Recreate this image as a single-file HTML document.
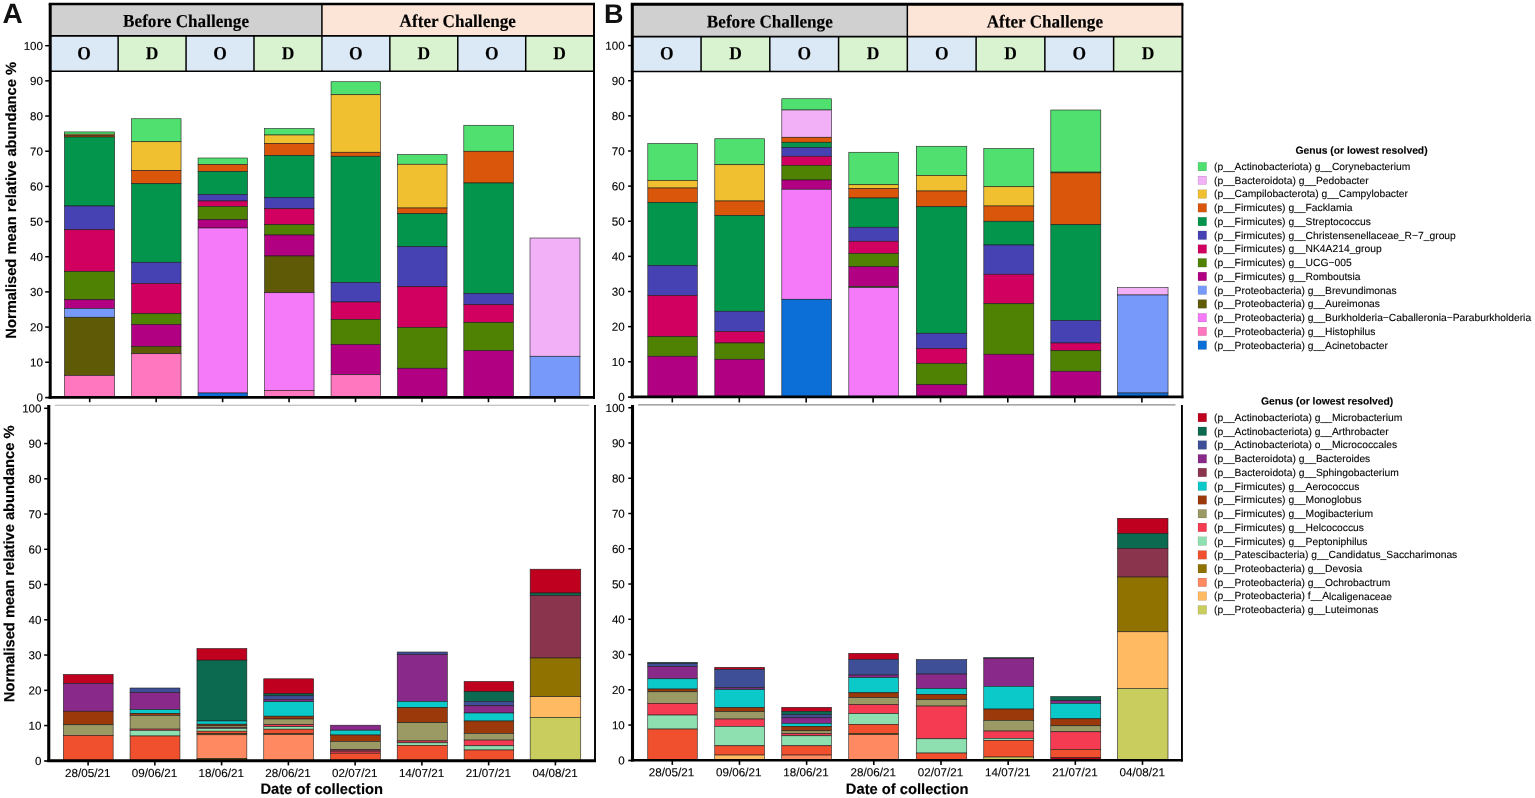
<!DOCTYPE html>
<html lang="en"><head><meta charset="utf-8"><title>Normalised mean relative abundance</title>
<style>html,body{margin:0;padding:0;background:#fff}body{width:1535px;height:798px;overflow:hidden}svg{display:block}</style>
</head><body>
<svg width="1535" height="798" viewBox="0 0 1535 798" text-rendering="geometricPrecision">
<rect width="1535" height="798" fill="#fff"/>
<rect x="50.2" y="4.05" width="271.72" height="31.849999999999998" fill="#d0d0d0"/>
<rect x="321.92" y="4.05" width="271.7200000000001" height="31.849999999999998" fill="#fce4d6"/>
<rect x="50.2" y="35.9" width="67.93" height="35.300000000000004" fill="#dbe9f6"/>
<rect x="118.13000000000001" y="35.9" width="67.92999999999999" height="35.300000000000004" fill="#d9f2d0"/>
<rect x="186.06" y="35.9" width="67.93" height="35.300000000000004" fill="#dbe9f6"/>
<rect x="253.99" y="35.9" width="67.93" height="35.300000000000004" fill="#d9f2d0"/>
<rect x="321.92" y="35.9" width="67.93" height="35.300000000000004" fill="#dbe9f6"/>
<rect x="389.85" y="35.9" width="67.93" height="35.300000000000004" fill="#d9f2d0"/>
<rect x="457.78000000000003" y="35.9" width="67.93" height="35.300000000000004" fill="#dbe9f6"/>
<rect x="525.71" y="35.9" width="67.93000000000006" height="35.300000000000004" fill="#d9f2d0"/>
<g stroke="#1c1c1c" stroke-width="0.58">
<rect x="64.45" y="131.90" width="50.20" height="2.30" fill="#4fe070"/>
<rect x="64.45" y="134.20" width="50.20" height="1.20" fill="#f0c030"/>
<rect x="64.45" y="135.40" width="50.20" height="1.60" fill="#d9560a"/>
<rect x="64.45" y="137.00" width="50.20" height="69.00" fill="#03954c"/>
<rect x="64.45" y="206.00" width="50.20" height="23.75" fill="#4742b4"/>
<rect x="64.45" y="229.75" width="50.20" height="41.75" fill="#d10060"/>
<rect x="64.45" y="271.50" width="50.20" height="28.25" fill="#4f8203"/>
<rect x="64.45" y="299.75" width="50.20" height="8.75" fill="#b20082"/>
<rect x="64.45" y="308.50" width="50.20" height="8.75" fill="#779afa"/>
<rect x="64.45" y="317.25" width="50.20" height="58.25" fill="#5e5a06"/>
<rect x="64.45" y="375.50" width="50.20" height="21.90" fill="#ff78bf"/>
<rect x="131.55" y="118.75" width="49.50" height="23.00" fill="#4fe070"/>
<rect x="131.55" y="141.75" width="49.50" height="28.75" fill="#f0c030"/>
<rect x="131.55" y="170.50" width="49.50" height="13.25" fill="#d9560a"/>
<rect x="131.55" y="183.75" width="49.50" height="78.50" fill="#03954c"/>
<rect x="131.55" y="262.25" width="49.50" height="21.25" fill="#4742b4"/>
<rect x="131.55" y="283.50" width="49.50" height="30.25" fill="#d10060"/>
<rect x="131.55" y="313.75" width="49.50" height="10.75" fill="#4f8203"/>
<rect x="131.55" y="324.50" width="49.50" height="22.00" fill="#b20082"/>
<rect x="131.55" y="346.50" width="49.50" height="7.25" fill="#5e5a06"/>
<rect x="131.55" y="353.75" width="49.50" height="43.65" fill="#ff78bf"/>
<rect x="198.05" y="158.00" width="49.50" height="6.50" fill="#4fe070"/>
<rect x="198.05" y="164.50" width="49.50" height="7.00" fill="#d9560a"/>
<rect x="198.05" y="171.50" width="49.50" height="23.00" fill="#03954c"/>
<rect x="198.05" y="194.50" width="49.50" height="6.50" fill="#4742b4"/>
<rect x="198.05" y="201.00" width="49.50" height="5.50" fill="#d10060"/>
<rect x="198.05" y="206.50" width="49.50" height="13.25" fill="#4f8203"/>
<rect x="198.05" y="219.75" width="49.50" height="8.25" fill="#b20082"/>
<rect x="198.05" y="228.00" width="49.50" height="165.00" fill="#f47af9"/>
<rect x="198.05" y="393.00" width="49.50" height="4.40" fill="#0c6fd8"/>
<rect x="264.55" y="128.50" width="49.50" height="6.50" fill="#4fe070"/>
<rect x="264.55" y="135.00" width="49.50" height="8.50" fill="#f0c030"/>
<rect x="264.55" y="143.50" width="49.50" height="12.00" fill="#d9560a"/>
<rect x="264.55" y="155.50" width="49.50" height="42.00" fill="#03954c"/>
<rect x="264.55" y="197.50" width="49.50" height="11.25" fill="#4742b4"/>
<rect x="264.55" y="208.75" width="49.50" height="16.00" fill="#d10060"/>
<rect x="264.55" y="224.75" width="49.50" height="10.25" fill="#4f8203"/>
<rect x="264.55" y="235.00" width="49.50" height="21.00" fill="#b20082"/>
<rect x="264.55" y="256.00" width="49.50" height="36.75" fill="#5e5a06"/>
<rect x="264.55" y="292.75" width="49.50" height="97.75" fill="#f47af9"/>
<rect x="264.55" y="390.50" width="49.50" height="6.90" fill="#ff78bf"/>
<rect x="331.05" y="81.75" width="49.50" height="13.00" fill="#4fe070"/>
<rect x="331.05" y="94.75" width="49.50" height="57.50" fill="#f0c030"/>
<rect x="331.05" y="152.25" width="49.50" height="4.00" fill="#d9560a"/>
<rect x="331.05" y="156.25" width="49.50" height="126.25" fill="#03954c"/>
<rect x="331.05" y="282.50" width="49.50" height="19.50" fill="#4742b4"/>
<rect x="331.05" y="302.00" width="49.50" height="17.50" fill="#d10060"/>
<rect x="331.05" y="319.50" width="49.50" height="25.00" fill="#4f8203"/>
<rect x="331.05" y="344.50" width="49.50" height="30.25" fill="#b20082"/>
<rect x="331.05" y="374.75" width="49.50" height="22.65" fill="#ff78bf"/>
<rect x="397.55" y="154.50" width="49.50" height="9.75" fill="#4fe070"/>
<rect x="397.55" y="164.25" width="49.50" height="43.75" fill="#f0c030"/>
<rect x="397.55" y="208.00" width="49.50" height="5.75" fill="#d9560a"/>
<rect x="397.55" y="213.75" width="49.50" height="33.00" fill="#03954c"/>
<rect x="397.55" y="246.75" width="49.50" height="40.00" fill="#4742b4"/>
<rect x="397.55" y="286.75" width="49.50" height="40.75" fill="#d10060"/>
<rect x="397.55" y="327.50" width="49.50" height="40.75" fill="#4f8203"/>
<rect x="397.55" y="368.25" width="49.50" height="29.15" fill="#b20082"/>
<rect x="463.80" y="125.25" width="49.75" height="26.00" fill="#4fe070"/>
<rect x="463.80" y="151.25" width="49.75" height="31.75" fill="#d9560a"/>
<rect x="463.80" y="183.00" width="49.75" height="110.50" fill="#03954c"/>
<rect x="463.80" y="293.50" width="49.75" height="11.25" fill="#4742b4"/>
<rect x="463.80" y="304.75" width="49.75" height="17.75" fill="#d10060"/>
<rect x="463.80" y="322.50" width="49.75" height="28.25" fill="#4f8203"/>
<rect x="463.80" y="350.75" width="49.75" height="46.65" fill="#b20082"/>
<rect x="530.00" y="238.00" width="50.00" height="118.25" fill="#f2b0f7"/>
<rect x="530.00" y="356.25" width="50.00" height="41.15" fill="#779afa"/>
<rect x="63.35" y="674.40" width="49.80" height="9.10" fill="#bf001f"/>
<rect x="63.35" y="683.50" width="49.80" height="27.75" fill="#892989"/>
<rect x="63.35" y="711.25" width="49.80" height="13.55" fill="#9b390b"/>
<rect x="63.35" y="724.80" width="49.80" height="10.60" fill="#9b9a64"/>
<rect x="63.35" y="735.40" width="49.80" height="25.40" fill="#f0502d"/>
<rect x="130.05" y="688.00" width="49.90" height="4.40" fill="#3f4f97"/>
<rect x="130.05" y="692.40" width="49.90" height="17.20" fill="#892989"/>
<rect x="130.05" y="709.60" width="49.90" height="3.90" fill="#0cc9c9"/>
<rect x="130.05" y="713.50" width="49.90" height="1.90" fill="#9b390b"/>
<rect x="130.05" y="715.40" width="49.90" height="13.70" fill="#9b9a64"/>
<rect x="130.05" y="729.10" width="49.90" height="1.20" fill="#f53b52"/>
<rect x="130.05" y="730.30" width="49.90" height="5.70" fill="#8fe0b0"/>
<rect x="130.05" y="736.00" width="49.90" height="24.80" fill="#f0502d"/>
<rect x="196.95" y="648.50" width="49.90" height="11.70" fill="#bf001f"/>
<rect x="196.95" y="660.20" width="49.90" height="60.80" fill="#0b6a50"/>
<rect x="196.95" y="721.00" width="49.90" height="3.20" fill="#0cc9c9"/>
<rect x="196.95" y="724.20" width="49.90" height="1.70" fill="#9b390b"/>
<rect x="196.95" y="725.90" width="49.90" height="1.70" fill="#9b9a64"/>
<rect x="196.95" y="727.60" width="49.90" height="0.80" fill="#f53b52"/>
<rect x="196.95" y="728.40" width="49.90" height="2.80" fill="#8fe0b0"/>
<rect x="196.95" y="731.20" width="49.90" height="2.50" fill="#f0502d"/>
<rect x="196.95" y="733.70" width="49.90" height="1.10" fill="#8f7200"/>
<rect x="196.95" y="734.80" width="49.90" height="23.90" fill="#ff8a62"/>
<rect x="196.95" y="758.70" width="49.90" height="2.10" fill="#8f7200"/>
<rect x="263.75" y="678.80" width="49.90" height="15.00" fill="#bf001f"/>
<rect x="263.75" y="693.80" width="49.90" height="2.00" fill="#0b6a50"/>
<rect x="263.75" y="695.80" width="49.90" height="3.50" fill="#3f4f97"/>
<rect x="263.75" y="699.30" width="49.90" height="2.40" fill="#892989"/>
<rect x="263.75" y="701.70" width="49.90" height="14.50" fill="#0cc9c9"/>
<rect x="263.75" y="716.20" width="49.90" height="2.80" fill="#9b390b"/>
<rect x="263.75" y="719.00" width="49.90" height="5.60" fill="#9b9a64"/>
<rect x="263.75" y="724.60" width="49.90" height="2.10" fill="#f53b52"/>
<rect x="263.75" y="726.70" width="49.90" height="2.50" fill="#8fe0b0"/>
<rect x="263.75" y="729.20" width="49.90" height="4.30" fill="#f0502d"/>
<rect x="263.75" y="733.50" width="49.90" height="1.00" fill="#8f7200"/>
<rect x="263.75" y="734.50" width="49.90" height="26.30" fill="#ff8a62"/>
<rect x="330.55" y="725.20" width="49.90" height="5.00" fill="#892989"/>
<rect x="330.55" y="730.20" width="49.90" height="4.80" fill="#0cc9c9"/>
<rect x="330.55" y="735.00" width="49.90" height="6.40" fill="#9b390b"/>
<rect x="330.55" y="741.40" width="49.90" height="7.90" fill="#9b9a64"/>
<rect x="330.55" y="749.30" width="49.90" height="1.90" fill="#8b344e"/>
<rect x="330.55" y="751.20" width="49.90" height="2.00" fill="#f53b52"/>
<rect x="330.55" y="753.20" width="49.90" height="7.60" fill="#f0502d"/>
<rect x="397.20" y="652.00" width="50.10" height="2.60" fill="#3f4f97"/>
<rect x="397.20" y="654.60" width="50.10" height="46.80" fill="#892989"/>
<rect x="397.20" y="701.40" width="50.10" height="6.30" fill="#0cc9c9"/>
<rect x="397.20" y="707.70" width="50.10" height="15.00" fill="#9b390b"/>
<rect x="397.20" y="722.70" width="50.10" height="18.20" fill="#9b9a64"/>
<rect x="397.20" y="740.90" width="50.10" height="1.90" fill="#f53b52"/>
<rect x="397.20" y="742.80" width="50.10" height="2.50" fill="#8fe0b0"/>
<rect x="397.20" y="745.30" width="50.10" height="15.50" fill="#f0502d"/>
<rect x="464.10" y="681.40" width="49.65" height="10.30" fill="#bf001f"/>
<rect x="464.10" y="691.70" width="49.65" height="9.70" fill="#0b6a50"/>
<rect x="464.10" y="701.40" width="49.65" height="4.40" fill="#3f4f97"/>
<rect x="464.10" y="705.80" width="49.65" height="7.20" fill="#892989"/>
<rect x="464.10" y="713.00" width="49.65" height="8.00" fill="#0cc9c9"/>
<rect x="464.10" y="721.00" width="49.65" height="12.40" fill="#9b390b"/>
<rect x="464.10" y="733.40" width="49.65" height="6.70" fill="#9b9a64"/>
<rect x="464.10" y="740.10" width="49.65" height="5.70" fill="#f53b52"/>
<rect x="464.10" y="745.80" width="49.65" height="4.20" fill="#8fe0b0"/>
<rect x="464.10" y="750.00" width="49.65" height="10.80" fill="#f0502d"/>
<rect x="530.15" y="569.20" width="50.60" height="23.80" fill="#bf001f"/>
<rect x="530.15" y="593.00" width="50.60" height="2.60" fill="#0b6a50"/>
<rect x="530.15" y="595.60" width="50.60" height="62.40" fill="#8b344e"/>
<rect x="530.15" y="658.00" width="50.60" height="38.70" fill="#8f7200"/>
<rect x="530.15" y="696.70" width="50.60" height="20.80" fill="#ffba62"/>
<rect x="530.15" y="717.50" width="50.60" height="43.30" fill="#c9cd5e"/>
</g>
<g stroke="#000" fill="none">
<line x1="48.7" y1="4.05" x2="595.0" y2="4.05" stroke-width="2.4"/>
<line x1="50.2" y1="35.9" x2="593.6400000000001" y2="35.9" stroke-width="1.7"/>
<line x1="50.2" y1="71.2" x2="593.6400000000001" y2="71.2" stroke-width="1.5"/>
<line x1="118.13" y1="35.9" x2="118.13" y2="71.2" stroke-width="1.5"/>
<line x1="186.06" y1="35.9" x2="186.06" y2="71.2" stroke-width="1.5"/>
<line x1="253.99" y1="35.9" x2="253.99" y2="71.2" stroke-width="1.5"/>
<line x1="321.92" y1="4.05" x2="321.92" y2="71.2" stroke-width="1.5"/>
<line x1="389.85" y1="35.9" x2="389.85" y2="71.2" stroke-width="1.5"/>
<line x1="457.78" y1="35.9" x2="457.78" y2="71.2" stroke-width="1.5"/>
<line x1="525.71" y1="35.9" x2="525.71" y2="71.2" stroke-width="1.5"/>
<line x1="50.2" y1="4.05" x2="50.2" y2="398.7" stroke-width="3"/>
<line x1="594.0" y1="4.05" x2="594.0" y2="398.7" stroke-width="2"/>
<line x1="48.7" y1="397.4" x2="595.0" y2="397.4" stroke-width="2.9"/>
<line x1="45.2" y1="397.59999999999997" x2="50.2" y2="397.59999999999997" stroke-width="1.7"/>
<line x1="48.75" y1="405" x2="48.75" y2="762.0999999999999" stroke-width="3.1"/>
<line x1="595.0" y1="405" x2="595.0" y2="762.0999999999999" stroke-width="1.9"/>
<line x1="47.25" y1="760.8" x2="595.95" y2="760.8" stroke-width="2.9"/>
<line x1="44.15" y1="761.0" x2="48.75" y2="761.0" stroke-width="1.7"/>
<line x1="54.8" y1="405.3" x2="589.2" y2="405.3" stroke="#b0b0b0" stroke-width="1.1"/>
<line x1="45.2" y1="362.23" x2="50.2" y2="362.23" stroke-width="1.5"/>
<line x1="44.15" y1="725.55" x2="48.75" y2="725.55" stroke-width="1.5"/>
<line x1="45.2" y1="327.06" x2="50.2" y2="327.06" stroke-width="1.5"/>
<line x1="44.15" y1="690.30" x2="48.75" y2="690.30" stroke-width="1.5"/>
<line x1="45.2" y1="291.89" x2="50.2" y2="291.89" stroke-width="1.5"/>
<line x1="44.15" y1="655.05" x2="48.75" y2="655.05" stroke-width="1.5"/>
<line x1="45.2" y1="256.72" x2="50.2" y2="256.72" stroke-width="1.5"/>
<line x1="44.15" y1="619.80" x2="48.75" y2="619.80" stroke-width="1.5"/>
<line x1="45.2" y1="221.55" x2="50.2" y2="221.55" stroke-width="1.5"/>
<line x1="44.15" y1="584.55" x2="48.75" y2="584.55" stroke-width="1.5"/>
<line x1="45.2" y1="186.38" x2="50.2" y2="186.38" stroke-width="1.5"/>
<line x1="44.15" y1="549.30" x2="48.75" y2="549.30" stroke-width="1.5"/>
<line x1="45.2" y1="151.21" x2="50.2" y2="151.21" stroke-width="1.5"/>
<line x1="44.15" y1="514.05" x2="48.75" y2="514.05" stroke-width="1.5"/>
<line x1="45.2" y1="116.04" x2="50.2" y2="116.04" stroke-width="1.5"/>
<line x1="44.15" y1="478.80" x2="48.75" y2="478.80" stroke-width="1.5"/>
<line x1="45.2" y1="80.87" x2="50.2" y2="80.87" stroke-width="1.5"/>
<line x1="44.15" y1="443.55" x2="48.75" y2="443.55" stroke-width="1.5"/>
<line x1="45.2" y1="45.70" x2="50.2" y2="45.70" stroke-width="1.5"/>
<line x1="44.15" y1="408.30" x2="48.75" y2="408.30" stroke-width="1.5"/>
<line x1="89.7" y1="397.4" x2="89.7" y2="402.2" stroke-width="1.6"/>
<line x1="156.16" y1="397.4" x2="156.16" y2="402.2" stroke-width="1.6"/>
<line x1="222.62" y1="397.4" x2="222.62" y2="402.2" stroke-width="1.6"/>
<line x1="289.08" y1="397.4" x2="289.08" y2="402.2" stroke-width="1.6"/>
<line x1="355.54" y1="397.4" x2="355.54" y2="402.2" stroke-width="1.6"/>
<line x1="422.0" y1="397.4" x2="422.0" y2="402.2" stroke-width="1.6"/>
<line x1="488.46" y1="397.4" x2="488.46" y2="402.2" stroke-width="1.6"/>
<line x1="554.92" y1="397.4" x2="554.92" y2="402.2" stroke-width="1.6"/>
<line x1="88.1" y1="760.8" x2="88.1" y2="765.4" stroke-width="1.6"/>
<line x1="154.86" y1="760.8" x2="154.86" y2="765.4" stroke-width="1.6"/>
<line x1="221.61" y1="760.8" x2="221.61" y2="765.4" stroke-width="1.6"/>
<line x1="288.37" y1="760.8" x2="288.37" y2="765.4" stroke-width="1.6"/>
<line x1="355.13" y1="760.8" x2="355.13" y2="765.4" stroke-width="1.6"/>
<line x1="421.88" y1="760.8" x2="421.88" y2="765.4" stroke-width="1.6"/>
<line x1="488.64" y1="760.8" x2="488.64" y2="765.4" stroke-width="1.6"/>
<line x1="555.4" y1="760.8" x2="555.4" y2="765.4" stroke-width="1.6"/>
</g>
<g font-family="'Liberation Sans',Arial,Helvetica,sans-serif" font-size="11.6" fill="#000" stroke="#000" stroke-width="0.12" text-anchor="end">
<text transform="translate(43.0,401.60) rotate(0.03)">0</text>
<text transform="translate(41.5,765.00) rotate(0.03)">0</text>
<text transform="translate(43.0,366.43) rotate(0.03)">10</text>
<text transform="translate(41.5,729.75) rotate(0.03)">10</text>
<text transform="translate(43.0,331.26) rotate(0.03)">20</text>
<text transform="translate(41.5,694.50) rotate(0.03)">20</text>
<text transform="translate(43.0,296.09) rotate(0.03)">30</text>
<text transform="translate(41.5,659.25) rotate(0.03)">30</text>
<text transform="translate(43.0,260.92) rotate(0.03)">40</text>
<text transform="translate(41.5,624.00) rotate(0.03)">40</text>
<text transform="translate(43.0,225.75) rotate(0.03)">50</text>
<text transform="translate(41.5,588.75) rotate(0.03)">50</text>
<text transform="translate(43.0,190.58) rotate(0.03)">60</text>
<text transform="translate(41.5,553.50) rotate(0.03)">60</text>
<text transform="translate(43.0,155.41) rotate(0.03)">70</text>
<text transform="translate(41.5,518.25) rotate(0.03)">70</text>
<text transform="translate(43.0,120.24) rotate(0.03)">80</text>
<text transform="translate(41.5,483.00) rotate(0.03)">80</text>
<text transform="translate(43.0,85.07) rotate(0.03)">90</text>
<text transform="translate(41.5,447.75) rotate(0.03)">90</text>
<text transform="translate(43.0,49.90) rotate(0.03)">100</text>
<text transform="translate(41.5,412.50) rotate(0.03)">100</text>
</g>
<g font-family="'Liberation Sans',Arial,Helvetica,sans-serif" font-size="11.65" fill="#000" stroke="#000" stroke-width="0.12" text-anchor="middle">
<text transform="translate(87.75,777.0) rotate(0.03)">28/05/21</text>
<text transform="translate(154.51,777.0) rotate(0.03)">09/06/21</text>
<text transform="translate(221.26,777.0) rotate(0.03)">18/06/21</text>
<text transform="translate(288.02,777.0) rotate(0.03)">28/06/21</text>
<text transform="translate(354.78,777.0) rotate(0.03)">02/07/21</text>
<text transform="translate(421.54,777.0) rotate(0.03)">14/07/21</text>
<text transform="translate(488.29,777.0) rotate(0.03)">21/07/21</text>
<text transform="translate(555.05,777.0) rotate(0.03)">04/08/21</text>
</g>
<text transform="translate(321.75,793.9) rotate(0.03)" font-family="'Liberation Sans',Arial,Helvetica,sans-serif" font-size="14.72" font-weight="bold" text-anchor="middle" fill="#000" stroke="#000" stroke-width="0.15">Date of collection</text>
<g font-family="'Liberation Serif','Times New Roman',serif" font-weight="bold" fill="#000" stroke="#000" stroke-width="0.12" text-anchor="middle">
<text transform="translate(186.06,26.9) rotate(0.03) scale(0.953,1)" font-size="18.0">Before Challenge</text>
<text transform="translate(457.78,26.9) rotate(0.03) scale(0.953,1)" font-size="18.0">After Challenge</text>
<text transform="translate(84.17,59.2) rotate(0.03) scale(0.95,1)" font-size="18.4">O</text>
<text transform="translate(152.09,59.2) rotate(0.03) scale(0.95,1)" font-size="18.4">D</text>
<text transform="translate(220.03,59.2) rotate(0.03) scale(0.95,1)" font-size="18.4">O</text>
<text transform="translate(287.96,59.2) rotate(0.03) scale(0.95,1)" font-size="18.4">D</text>
<text transform="translate(355.88,59.2) rotate(0.03) scale(0.95,1)" font-size="18.4">O</text>
<text transform="translate(423.82,59.2) rotate(0.03) scale(0.95,1)" font-size="18.4">D</text>
<text transform="translate(491.75,59.2) rotate(0.03) scale(0.95,1)" font-size="18.4">O</text>
<text transform="translate(559.68,59.2) rotate(0.03) scale(0.95,1)" font-size="18.4">D</text>
</g>
<text transform="translate(2.6,23.1) rotate(0.03)" font-family="'Liberation Sans',Arial,Helvetica,sans-serif" font-size="28" font-weight="bold" fill="#111">A</text>
<rect x="632.3" y="4.3" width="275.03999999999996" height="32.400000000000006" fill="#d0d0d0"/>
<rect x="907.3399999999999" y="4.3" width="275.0400000000002" height="32.400000000000006" fill="#fce4d6"/>
<rect x="632.3" y="36.7" width="68.75999999999999" height="34.89999999999999" fill="#dbe9f6"/>
<rect x="701.06" y="36.7" width="68.75999999999999" height="34.89999999999999" fill="#d9f2d0"/>
<rect x="769.8199999999999" y="36.7" width="68.75999999999999" height="34.89999999999999" fill="#dbe9f6"/>
<rect x="838.5799999999999" y="36.7" width="68.75999999999999" height="34.89999999999999" fill="#d9f2d0"/>
<rect x="907.3399999999999" y="36.7" width="68.75999999999999" height="34.89999999999999" fill="#dbe9f6"/>
<rect x="976.0999999999999" y="36.7" width="68.76000000000022" height="34.89999999999999" fill="#d9f2d0"/>
<rect x="1044.8600000000001" y="36.7" width="68.75999999999976" height="34.89999999999999" fill="#dbe9f6"/>
<rect x="1113.62" y="36.7" width="68.76000000000022" height="34.89999999999999" fill="#d9f2d0"/>
<g stroke="#1c1c1c" stroke-width="0.58">
<rect x="647.80" y="143.50" width="49.50" height="37.00" fill="#4fe070"/>
<rect x="647.80" y="180.50" width="49.50" height="7.50" fill="#f0c030"/>
<rect x="647.80" y="188.00" width="49.50" height="14.50" fill="#d9560a"/>
<rect x="647.80" y="202.50" width="49.50" height="63.00" fill="#03954c"/>
<rect x="647.80" y="265.50" width="49.50" height="30.00" fill="#4742b4"/>
<rect x="647.80" y="295.50" width="49.50" height="41.25" fill="#d10060"/>
<rect x="647.80" y="336.75" width="49.50" height="19.50" fill="#4f8203"/>
<rect x="647.80" y="356.25" width="49.50" height="40.65" fill="#b20082"/>
<rect x="714.80" y="138.75" width="49.75" height="26.00" fill="#4fe070"/>
<rect x="714.80" y="164.75" width="49.75" height="36.25" fill="#f0c030"/>
<rect x="714.80" y="201.00" width="49.75" height="14.50" fill="#d9560a"/>
<rect x="714.80" y="215.50" width="49.75" height="95.75" fill="#03954c"/>
<rect x="714.80" y="311.25" width="49.75" height="20.25" fill="#4742b4"/>
<rect x="714.80" y="331.50" width="49.75" height="11.50" fill="#d10060"/>
<rect x="714.80" y="343.00" width="49.75" height="16.25" fill="#4f8203"/>
<rect x="714.80" y="359.25" width="49.75" height="37.65" fill="#b20082"/>
<rect x="781.80" y="98.75" width="49.75" height="11.25" fill="#4fe070"/>
<rect x="781.80" y="110.00" width="49.75" height="27.25" fill="#f2b0f7"/>
<rect x="781.80" y="137.25" width="49.75" height="5.00" fill="#d9560a"/>
<rect x="781.80" y="142.25" width="49.75" height="5.25" fill="#03954c"/>
<rect x="781.80" y="147.50" width="49.75" height="8.75" fill="#4742b4"/>
<rect x="781.80" y="156.25" width="49.75" height="9.25" fill="#d10060"/>
<rect x="781.80" y="165.50" width="49.75" height="14.50" fill="#4f8203"/>
<rect x="781.80" y="180.00" width="49.75" height="9.25" fill="#b20082"/>
<rect x="781.80" y="189.25" width="49.75" height="110.00" fill="#f47af9"/>
<rect x="781.80" y="299.25" width="49.75" height="97.65" fill="#0c6fd8"/>
<rect x="848.80" y="152.25" width="49.75" height="32.50" fill="#4fe070"/>
<rect x="848.80" y="184.75" width="49.75" height="3.75" fill="#f0c030"/>
<rect x="848.80" y="188.50" width="49.75" height="9.50" fill="#d9560a"/>
<rect x="848.80" y="198.00" width="49.75" height="29.25" fill="#03954c"/>
<rect x="848.80" y="227.25" width="49.75" height="14.00" fill="#4742b4"/>
<rect x="848.80" y="241.25" width="49.75" height="12.25" fill="#d10060"/>
<rect x="848.80" y="253.50" width="49.75" height="13.25" fill="#4f8203"/>
<rect x="848.80" y="266.75" width="49.75" height="19.55" fill="#b20082"/>
<rect x="848.80" y="286.30" width="49.75" height="1.20" fill="#5e5a06"/>
<rect x="848.80" y="287.50" width="49.75" height="109.40" fill="#f47af9"/>
<rect x="916.30" y="146.25" width="50.50" height="29.25" fill="#4fe070"/>
<rect x="916.30" y="175.50" width="50.50" height="15.50" fill="#f0c030"/>
<rect x="916.30" y="191.00" width="50.50" height="15.75" fill="#d9560a"/>
<rect x="916.30" y="206.75" width="50.50" height="126.50" fill="#03954c"/>
<rect x="916.30" y="333.25" width="50.50" height="15.25" fill="#4742b4"/>
<rect x="916.30" y="348.50" width="50.50" height="15.00" fill="#d10060"/>
<rect x="916.30" y="363.50" width="50.50" height="21.25" fill="#4f8203"/>
<rect x="916.30" y="384.75" width="50.50" height="12.15" fill="#b20082"/>
<rect x="983.80" y="148.50" width="50.00" height="38.25" fill="#4fe070"/>
<rect x="983.80" y="186.75" width="50.00" height="19.25" fill="#f0c030"/>
<rect x="983.80" y="206.00" width="50.00" height="15.25" fill="#d9560a"/>
<rect x="983.80" y="221.25" width="50.00" height="23.75" fill="#03954c"/>
<rect x="983.80" y="245.00" width="50.00" height="29.25" fill="#4742b4"/>
<rect x="983.80" y="274.25" width="50.00" height="29.50" fill="#d10060"/>
<rect x="983.80" y="303.75" width="50.00" height="50.50" fill="#4f8203"/>
<rect x="983.80" y="354.25" width="50.00" height="42.65" fill="#b20082"/>
<rect x="1050.80" y="110.00" width="50.00" height="62.10" fill="#4fe070"/>
<rect x="1050.80" y="172.10" width="50.00" height="0.80" fill="#f0c030"/>
<rect x="1050.80" y="172.90" width="50.00" height="51.85" fill="#d9560a"/>
<rect x="1050.80" y="224.75" width="50.00" height="95.75" fill="#03954c"/>
<rect x="1050.80" y="320.50" width="50.00" height="22.50" fill="#4742b4"/>
<rect x="1050.80" y="343.00" width="50.00" height="7.75" fill="#d10060"/>
<rect x="1050.80" y="350.75" width="50.00" height="20.50" fill="#4f8203"/>
<rect x="1050.80" y="371.25" width="50.00" height="25.65" fill="#b20082"/>
<rect x="1117.55" y="287.50" width="50.50" height="7.50" fill="#f2b0f7"/>
<rect x="1117.55" y="295.00" width="50.50" height="98.00" fill="#779afa"/>
<rect x="1117.55" y="393.00" width="50.50" height="3.90" fill="#0c6fd8"/>
<rect x="647.75" y="662.30" width="49.50" height="1.00" fill="#0b6a50"/>
<rect x="647.75" y="663.30" width="49.50" height="3.00" fill="#3f4f97"/>
<rect x="647.75" y="666.30" width="49.50" height="12.50" fill="#892989"/>
<rect x="647.75" y="678.80" width="49.50" height="10.25" fill="#0cc9c9"/>
<rect x="647.75" y="689.05" width="49.50" height="2.75" fill="#9b390b"/>
<rect x="647.75" y="691.80" width="49.50" height="11.50" fill="#9b9a64"/>
<rect x="647.75" y="703.30" width="49.50" height="11.75" fill="#f53b52"/>
<rect x="647.75" y="715.05" width="49.50" height="14.00" fill="#8fe0b0"/>
<rect x="647.75" y="729.05" width="49.50" height="31.25" fill="#f0502d"/>
<rect x="714.75" y="667.30" width="49.75" height="2.00" fill="#bf001f"/>
<rect x="714.75" y="669.30" width="49.75" height="18.50" fill="#3f4f97"/>
<rect x="714.75" y="687.80" width="49.75" height="1.75" fill="#892989"/>
<rect x="714.75" y="689.55" width="49.75" height="18.00" fill="#0cc9c9"/>
<rect x="714.75" y="707.55" width="49.75" height="4.00" fill="#9b390b"/>
<rect x="714.75" y="711.55" width="49.75" height="7.50" fill="#9b9a64"/>
<rect x="714.75" y="719.05" width="49.75" height="7.25" fill="#f53b52"/>
<rect x="714.75" y="726.30" width="49.75" height="19.50" fill="#8fe0b0"/>
<rect x="714.75" y="745.80" width="49.75" height="9.25" fill="#f0502d"/>
<rect x="714.75" y="755.05" width="49.75" height="5.25" fill="#ffba62"/>
<rect x="781.75" y="707.30" width="49.75" height="4.00" fill="#bf001f"/>
<rect x="781.75" y="711.30" width="49.75" height="3.25" fill="#0b6a50"/>
<rect x="781.75" y="714.55" width="49.75" height="3.25" fill="#3f4f97"/>
<rect x="781.75" y="717.80" width="49.75" height="5.50" fill="#892989"/>
<rect x="781.75" y="723.30" width="49.75" height="3.00" fill="#0cc9c9"/>
<rect x="781.75" y="726.30" width="49.75" height="4.50" fill="#9b390b"/>
<rect x="781.75" y="730.80" width="49.75" height="2.75" fill="#9b9a64"/>
<rect x="781.75" y="733.55" width="49.75" height="2.25" fill="#f53b52"/>
<rect x="781.75" y="735.80" width="49.75" height="10.00" fill="#8fe0b0"/>
<rect x="781.75" y="745.80" width="49.75" height="9.25" fill="#f0502d"/>
<rect x="781.75" y="755.05" width="49.75" height="5.25" fill="#ff8a62"/>
<rect x="848.75" y="653.30" width="49.75" height="6.00" fill="#bf001f"/>
<rect x="848.75" y="659.30" width="49.75" height="15.75" fill="#3f4f97"/>
<rect x="848.75" y="675.05" width="49.75" height="2.50" fill="#892989"/>
<rect x="848.75" y="677.55" width="49.75" height="15.25" fill="#0cc9c9"/>
<rect x="848.75" y="692.80" width="49.75" height="4.75" fill="#9b390b"/>
<rect x="848.75" y="697.55" width="49.75" height="7.00" fill="#9b9a64"/>
<rect x="848.75" y="704.55" width="49.75" height="9.00" fill="#f53b52"/>
<rect x="848.75" y="713.55" width="49.75" height="10.75" fill="#8fe0b0"/>
<rect x="848.75" y="724.30" width="49.75" height="9.00" fill="#f0502d"/>
<rect x="848.75" y="733.30" width="49.75" height="1.30" fill="#8f7200"/>
<rect x="848.75" y="734.60" width="49.75" height="25.70" fill="#ff8a62"/>
<rect x="916.25" y="659.55" width="50.50" height="14.50" fill="#3f4f97"/>
<rect x="916.25" y="674.05" width="50.50" height="14.50" fill="#892989"/>
<rect x="916.25" y="688.55" width="50.50" height="5.75" fill="#0cc9c9"/>
<rect x="916.25" y="694.30" width="50.50" height="5.25" fill="#9b390b"/>
<rect x="916.25" y="699.55" width="50.50" height="6.50" fill="#9b9a64"/>
<rect x="916.25" y="706.05" width="50.50" height="32.75" fill="#f53b52"/>
<rect x="916.25" y="738.80" width="50.50" height="14.25" fill="#8fe0b0"/>
<rect x="916.25" y="753.05" width="50.50" height="7.25" fill="#f0502d"/>
<rect x="983.75" y="657.60" width="50.00" height="0.70" fill="#0b6a50"/>
<rect x="983.75" y="658.30" width="50.00" height="28.00" fill="#892989"/>
<rect x="983.75" y="686.30" width="50.00" height="22.75" fill="#0cc9c9"/>
<rect x="983.75" y="709.05" width="50.00" height="11.25" fill="#9b390b"/>
<rect x="983.75" y="720.30" width="50.00" height="10.75" fill="#9b9a64"/>
<rect x="983.75" y="731.05" width="50.00" height="7.25" fill="#f53b52"/>
<rect x="983.75" y="738.30" width="50.00" height="2.00" fill="#8fe0b0"/>
<rect x="983.75" y="740.30" width="50.00" height="16.75" fill="#f0502d"/>
<rect x="983.75" y="757.05" width="50.00" height="3.25" fill="#c9cd5e"/>
<rect x="1050.75" y="696.55" width="50.00" height="4.25" fill="#0b6a50"/>
<rect x="1050.75" y="700.80" width="50.00" height="2.50" fill="#892989"/>
<rect x="1050.75" y="703.30" width="50.00" height="15.50" fill="#0cc9c9"/>
<rect x="1050.75" y="718.80" width="50.00" height="7.00" fill="#9b390b"/>
<rect x="1050.75" y="725.80" width="50.00" height="6.00" fill="#9b9a64"/>
<rect x="1050.75" y="731.80" width="50.00" height="17.50" fill="#f53b52"/>
<rect x="1050.75" y="749.30" width="50.00" height="8.50" fill="#f0502d"/>
<rect x="1050.75" y="757.80" width="50.00" height="2.50" fill="#bf001f"/>
<rect x="1117.50" y="518.30" width="50.50" height="15.25" fill="#bf001f"/>
<rect x="1117.50" y="533.55" width="50.50" height="14.75" fill="#0b6a50"/>
<rect x="1117.50" y="548.30" width="50.50" height="28.75" fill="#8b344e"/>
<rect x="1117.50" y="577.05" width="50.50" height="54.75" fill="#8f7200"/>
<rect x="1117.50" y="631.80" width="50.50" height="56.50" fill="#ffba62"/>
<rect x="1117.50" y="688.30" width="50.50" height="72.00" fill="#c9cd5e"/>
</g>
<g stroke="#000" fill="none">
<line x1="630.8" y1="4.3" x2="1183.4" y2="4.3" stroke-width="3.1"/>
<line x1="632.3" y1="36.7" x2="1182.38" y2="36.7" stroke-width="1.7"/>
<line x1="632.3" y1="71.6" x2="1182.38" y2="71.6" stroke-width="1.5"/>
<line x1="701.06" y1="36.7" x2="701.06" y2="71.6" stroke-width="1.5"/>
<line x1="769.82" y1="36.7" x2="769.82" y2="71.6" stroke-width="1.5"/>
<line x1="838.58" y1="36.7" x2="838.58" y2="71.6" stroke-width="1.5"/>
<line x1="907.34" y1="4.3" x2="907.34" y2="71.6" stroke-width="1.5"/>
<line x1="976.10" y1="36.7" x2="976.10" y2="71.6" stroke-width="1.5"/>
<line x1="1044.86" y1="36.7" x2="1044.86" y2="71.6" stroke-width="1.5"/>
<line x1="1113.62" y1="36.7" x2="1113.62" y2="71.6" stroke-width="1.5"/>
<line x1="632.3" y1="4.3" x2="632.3" y2="398.2" stroke-width="3"/>
<line x1="1182.4" y1="4.3" x2="1182.4" y2="398.2" stroke-width="2"/>
<line x1="630.8" y1="396.9" x2="1183.4" y2="396.9" stroke-width="2.6"/>
<line x1="628.0999999999999" y1="397.09999999999997" x2="632.3" y2="397.09999999999997" stroke-width="1.7"/>
<line x1="632.5" y1="405" x2="632.5" y2="761.5999999999999" stroke-width="3.1"/>
<line x1="1181.95" y1="405" x2="1181.95" y2="761.5999999999999" stroke-width="1.9"/>
<line x1="631.0" y1="760.3" x2="1182.9" y2="760.3" stroke-width="2.6"/>
<line x1="628.3" y1="760.5" x2="632.5" y2="760.5" stroke-width="1.7"/>
<line x1="638" y1="404.9" x2="1175.5" y2="404.9" stroke="#8c8c8c" stroke-width="1.1"/>
<line x1="628.0999999999999" y1="361.77" x2="632.3" y2="361.77" stroke-width="1.5"/>
<line x1="628.3" y1="725.04" x2="632.5" y2="725.04" stroke-width="1.5"/>
<line x1="628.0999999999999" y1="326.64" x2="632.3" y2="326.64" stroke-width="1.5"/>
<line x1="628.3" y1="689.79" x2="632.5" y2="689.79" stroke-width="1.5"/>
<line x1="628.0999999999999" y1="291.51" x2="632.3" y2="291.51" stroke-width="1.5"/>
<line x1="628.3" y1="654.53" x2="632.5" y2="654.53" stroke-width="1.5"/>
<line x1="628.0999999999999" y1="256.38" x2="632.3" y2="256.38" stroke-width="1.5"/>
<line x1="628.3" y1="619.28" x2="632.5" y2="619.28" stroke-width="1.5"/>
<line x1="628.0999999999999" y1="221.25" x2="632.3" y2="221.25" stroke-width="1.5"/>
<line x1="628.3" y1="584.02" x2="632.5" y2="584.02" stroke-width="1.5"/>
<line x1="628.0999999999999" y1="186.12" x2="632.3" y2="186.12" stroke-width="1.5"/>
<line x1="628.3" y1="548.77" x2="632.5" y2="548.77" stroke-width="1.5"/>
<line x1="628.0999999999999" y1="150.99" x2="632.3" y2="150.99" stroke-width="1.5"/>
<line x1="628.3" y1="513.51" x2="632.5" y2="513.51" stroke-width="1.5"/>
<line x1="628.0999999999999" y1="115.86" x2="632.3" y2="115.86" stroke-width="1.5"/>
<line x1="628.3" y1="478.26" x2="632.5" y2="478.26" stroke-width="1.5"/>
<line x1="628.0999999999999" y1="80.73" x2="632.3" y2="80.73" stroke-width="1.5"/>
<line x1="628.3" y1="443.00" x2="632.5" y2="443.00" stroke-width="1.5"/>
<line x1="628.0999999999999" y1="45.60" x2="632.3" y2="45.60" stroke-width="1.5"/>
<line x1="628.3" y1="407.75" x2="632.5" y2="407.75" stroke-width="1.5"/>
<line x1="672.3" y1="396.9" x2="672.3" y2="402.4" stroke-width="1.6"/>
<line x1="739.3" y1="396.9" x2="739.3" y2="402.4" stroke-width="1.6"/>
<line x1="806.2" y1="396.9" x2="806.2" y2="402.4" stroke-width="1.6"/>
<line x1="873.1" y1="396.9" x2="873.1" y2="402.4" stroke-width="1.6"/>
<line x1="940.5" y1="396.9" x2="940.5" y2="402.4" stroke-width="1.6"/>
<line x1="1007.8" y1="396.9" x2="1007.8" y2="402.4" stroke-width="1.6"/>
<line x1="1074.8" y1="396.9" x2="1074.8" y2="402.4" stroke-width="1.6"/>
<line x1="1141.9" y1="396.9" x2="1141.9" y2="402.4" stroke-width="1.6"/>
<line x1="672.3" y1="760.3" x2="672.3" y2="764.9" stroke-width="1.6"/>
<line x1="739.47" y1="760.3" x2="739.47" y2="764.9" stroke-width="1.6"/>
<line x1="806.64" y1="760.3" x2="806.64" y2="764.9" stroke-width="1.6"/>
<line x1="873.81" y1="760.3" x2="873.81" y2="764.9" stroke-width="1.6"/>
<line x1="940.98" y1="760.3" x2="940.98" y2="764.9" stroke-width="1.6"/>
<line x1="1008.15" y1="760.3" x2="1008.15" y2="764.9" stroke-width="1.6"/>
<line x1="1075.32" y1="760.3" x2="1075.32" y2="764.9" stroke-width="1.6"/>
<line x1="1142.49" y1="760.3" x2="1142.49" y2="764.9" stroke-width="1.6"/>
</g>
<g font-family="'Liberation Sans',Arial,Helvetica,sans-serif" font-size="11.6" fill="#000" stroke="#000" stroke-width="0.12" text-anchor="end">
<text transform="translate(624.7,401.10) rotate(0.03)">0</text>
<text transform="translate(624.8,764.50) rotate(0.03)">0</text>
<text transform="translate(624.7,365.97) rotate(0.03)">10</text>
<text transform="translate(624.8,729.25) rotate(0.03)">10</text>
<text transform="translate(624.7,330.84) rotate(0.03)">20</text>
<text transform="translate(624.8,693.99) rotate(0.03)">20</text>
<text transform="translate(624.7,295.71) rotate(0.03)">30</text>
<text transform="translate(624.8,658.74) rotate(0.03)">30</text>
<text transform="translate(624.7,260.58) rotate(0.03)">40</text>
<text transform="translate(624.8,623.48) rotate(0.03)">40</text>
<text transform="translate(624.7,225.45) rotate(0.03)">50</text>
<text transform="translate(624.8,588.23) rotate(0.03)">50</text>
<text transform="translate(624.7,190.32) rotate(0.03)">60</text>
<text transform="translate(624.8,552.97) rotate(0.03)">60</text>
<text transform="translate(624.7,155.19) rotate(0.03)">70</text>
<text transform="translate(624.8,517.72) rotate(0.03)">70</text>
<text transform="translate(624.7,120.06) rotate(0.03)">80</text>
<text transform="translate(624.8,482.46) rotate(0.03)">80</text>
<text transform="translate(624.7,84.93) rotate(0.03)">90</text>
<text transform="translate(624.8,447.20) rotate(0.03)">90</text>
<text transform="translate(624.7,49.80) rotate(0.03)">100</text>
<text transform="translate(624.8,411.95) rotate(0.03)">100</text>
</g>
<g font-family="'Liberation Sans',Arial,Helvetica,sans-serif" font-size="11.65" fill="#000" stroke="#000" stroke-width="0.12" text-anchor="middle">
<text transform="translate(671.45,776.25) rotate(0.03)">28/05/21</text>
<text transform="translate(738.7,776.25) rotate(0.03)">09/06/21</text>
<text transform="translate(805.95,776.25) rotate(0.03)">18/06/21</text>
<text transform="translate(873.2,776.25) rotate(0.03)">28/06/21</text>
<text transform="translate(940.45,776.25) rotate(0.03)">02/07/21</text>
<text transform="translate(1007.7,776.25) rotate(0.03)">14/07/21</text>
<text transform="translate(1074.95,776.25) rotate(0.03)">21/07/21</text>
<text transform="translate(1142.2,776.25) rotate(0.03)">04/08/21</text>
</g>
<text transform="translate(907.2,793.9) rotate(0.03)" font-family="'Liberation Sans',Arial,Helvetica,sans-serif" font-size="14.72" font-weight="bold" text-anchor="middle" fill="#000" stroke="#000" stroke-width="0.15">Date of collection</text>
<g font-family="'Liberation Serif','Times New Roman',serif" font-weight="bold" fill="#000" stroke="#000" stroke-width="0.12" text-anchor="middle">
<text transform="translate(769.82,27.5) rotate(0.03) scale(0.953,1)" font-size="18.0">Before Challenge</text>
<text transform="translate(1044.86,27.5) rotate(0.03) scale(0.953,1)" font-size="18.0">After Challenge</text>
<text transform="translate(666.68,59.2) rotate(0.03) scale(0.95,1)" font-size="18.4">O</text>
<text transform="translate(735.44,59.2) rotate(0.03) scale(0.95,1)" font-size="18.4">D</text>
<text transform="translate(804.20,59.2) rotate(0.03) scale(0.95,1)" font-size="18.4">O</text>
<text transform="translate(872.96,59.2) rotate(0.03) scale(0.95,1)" font-size="18.4">D</text>
<text transform="translate(941.72,59.2) rotate(0.03) scale(0.95,1)" font-size="18.4">O</text>
<text transform="translate(1010.48,59.2) rotate(0.03) scale(0.95,1)" font-size="18.4">D</text>
<text transform="translate(1079.24,59.2) rotate(0.03) scale(0.95,1)" font-size="18.4">O</text>
<text transform="translate(1148.00,59.2) rotate(0.03) scale(0.95,1)" font-size="18.4">D</text>
</g>
<text transform="translate(603.9,23.1) rotate(0.03)" font-family="'Liberation Sans',Arial,Helvetica,sans-serif" font-size="27" font-weight="bold" fill="#111">B</text>
<text transform="translate(16.0,200.3) rotate(-90.03)" font-family="'Liberation Sans',Arial,Helvetica,sans-serif" font-size="14.7" font-weight="bold" fill="#000" stroke="#000" stroke-width="0.18" text-anchor="middle">Normalised mean relative abundance %</text>
<text transform="translate(14.1,563.8) rotate(-90.03)" font-family="'Liberation Sans',Arial,Helvetica,sans-serif" font-size="14.7" font-weight="bold" fill="#000" stroke="#000" stroke-width="0.18" text-anchor="middle">Normalised mean relative abundance %</text>
<text transform="translate(1361.5,153.8) rotate(0.03)" font-family="'Liberation Sans',Arial,Helvetica,sans-serif" font-size="10.3" font-weight="bold" text-anchor="middle" fill="#000" stroke="#000" stroke-width="0.12">Genus (or lowest resolved)</text>
<g font-family="'Liberation Sans',Arial,Helvetica,sans-serif" font-size="10.3" fill="#000" stroke="#000" stroke-width="0.1">
<rect x="1198" y="162.30" width="8.6" height="8.6" fill="#4fe070"/>
<text transform="translate(1214,169.95) rotate(0.02)">(p__Actinobacteriota) g__Corynebacterium</text>
<rect x="1198" y="176.04" width="8.6" height="8.6" fill="#f2b0f7"/>
<text transform="translate(1214,183.69) rotate(0.02)">(p__Bacteroidota) g__Pedobacter</text>
<rect x="1198" y="189.77" width="8.6" height="8.6" fill="#f0c030"/>
<text transform="translate(1214,197.42) rotate(0.02)">(p__Campilobacterota) g__Campylobacter</text>
<rect x="1198" y="203.50" width="8.6" height="8.6" fill="#d9560a"/>
<text transform="translate(1214,211.16) rotate(0.02)">(p__Firmicutes) g__Facklamia</text>
<rect x="1198" y="217.24" width="8.6" height="8.6" fill="#03954c"/>
<text transform="translate(1214,224.89) rotate(0.02)">(p__Firmicutes) g__Streptococcus</text>
<rect x="1198" y="230.98" width="8.6" height="8.6" fill="#4742b4"/>
<text transform="translate(1214,238.63) rotate(0.02)">(p__Firmicutes) g__Christensenellaceae_R−7_group</text>
<rect x="1198" y="244.71" width="8.6" height="8.6" fill="#d10060"/>
<text transform="translate(1214,252.36) rotate(0.02)">(p__Firmicutes) g__NK4A214_group</text>
<rect x="1198" y="258.44" width="8.6" height="8.6" fill="#4f8203"/>
<text transform="translate(1214,266.09) rotate(0.02)">(p__Firmicutes) g__UCG−005</text>
<rect x="1198" y="272.18" width="8.6" height="8.6" fill="#b20082"/>
<text transform="translate(1214,279.83) rotate(0.02)">(p__Firmicutes) g__Romboutsia</text>
<rect x="1198" y="285.92" width="8.6" height="8.6" fill="#779afa"/>
<text transform="translate(1214,293.56) rotate(0.02)">(p__Proteobacteria) g__Brevundimonas</text>
<rect x="1198" y="299.65" width="8.6" height="8.6" fill="#5e5a06"/>
<text transform="translate(1214,307.30) rotate(0.02)">(p__Proteobacteria) g__Aureimonas</text>
<rect x="1198" y="313.38" width="8.6" height="8.6" fill="#f47af9"/>
<text transform="translate(1214,321.03) rotate(0.02)">(p__Proteobacteria) g__Burkholderia−Caballeronia−Paraburkholderia</text>
<rect x="1198" y="327.12" width="8.6" height="8.6" fill="#ff78bf"/>
<text transform="translate(1214,334.77) rotate(0.02)">(p__Proteobacteria) g__Histophilus</text>
<rect x="1198" y="340.86" width="8.6" height="8.6" fill="#0c6fd8"/>
<text transform="translate(1214,348.50) rotate(0.02)">(p__Proteobacteria) g__Acinetobacter</text>
</g>
<text transform="translate(1327.2,404.6) rotate(0.03)" font-family="'Liberation Sans',Arial,Helvetica,sans-serif" font-size="10.3" font-weight="bold" text-anchor="middle" fill="#000" stroke="#000" stroke-width="0.12">Genus (or lowest resolved)</text>
<g font-family="'Liberation Sans',Arial,Helvetica,sans-serif" font-size="10.3" fill="#000" stroke="#000" stroke-width="0.1">
<rect x="1198" y="413.25" width="8.6" height="8.6" fill="#bf001f"/>
<text transform="translate(1214,420.90) rotate(0.02)">(p__Actinobacteriota) g__Microbacterium</text>
<rect x="1198" y="426.99" width="8.6" height="8.6" fill="#0b6a50"/>
<text transform="translate(1214,434.63) rotate(0.02)">(p__Actinobacteriota) g__Arthrobacter</text>
<rect x="1198" y="440.72" width="8.6" height="8.6" fill="#3f4f97"/>
<text transform="translate(1214,448.37) rotate(0.02)">(p__Actinobacteriota) o__Micrococcales</text>
<rect x="1198" y="454.45" width="8.6" height="8.6" fill="#892989"/>
<text transform="translate(1214,462.10) rotate(0.02)">(p__Bacteroidota) g__Bacteroides</text>
<rect x="1198" y="468.19" width="8.6" height="8.6" fill="#8b344e"/>
<text transform="translate(1214,475.84) rotate(0.02)">(p__Bacteroidota) g__Sphingobacterium</text>
<rect x="1198" y="481.93" width="8.6" height="8.6" fill="#0cc9c9"/>
<text transform="translate(1214,489.57) rotate(0.02)">(p__Firmicutes) g__Aerococcus</text>
<rect x="1198" y="495.66" width="8.6" height="8.6" fill="#9b390b"/>
<text transform="translate(1214,503.31) rotate(0.02)">(p__Firmicutes) g__Monoglobus</text>
<rect x="1198" y="509.39" width="8.6" height="8.6" fill="#9b9a64"/>
<text transform="translate(1214,517.04) rotate(0.02)">(p__Firmicutes) g__Mogibacterium</text>
<rect x="1198" y="523.13" width="8.6" height="8.6" fill="#f53b52"/>
<text transform="translate(1214,530.78) rotate(0.02)">(p__Firmicutes) g__Helcococcus</text>
<rect x="1198" y="536.87" width="8.6" height="8.6" fill="#8fe0b0"/>
<text transform="translate(1214,544.51) rotate(0.02)">(p__Firmicutes) g__Peptoniphilus</text>
<rect x="1198" y="550.60" width="8.6" height="8.6" fill="#f0502d"/>
<text transform="translate(1214,558.25) rotate(0.02)">(p__Patescibacteria) g__Candidatus_Saccharimonas</text>
<rect x="1198" y="564.34" width="8.6" height="8.6" fill="#8f7200"/>
<text transform="translate(1214,571.99) rotate(0.02)">(p__Proteobacteria) g__Devosia</text>
<rect x="1198" y="578.07" width="8.6" height="8.6" fill="#ff8a62"/>
<text transform="translate(1214,585.72) rotate(0.02)">(p__Proteobacteria) g__Ochrobactrum</text>
<rect x="1198" y="591.81" width="8.6" height="8.6" fill="#ffba62"/>
<text transform="translate(1214,599.46) rotate(0.02)">(p__Proteobacteria) f__Alcaligenaceae</text>
<rect x="1198" y="605.54" width="8.6" height="8.6" fill="#c9cd5e"/>
<text transform="translate(1214,613.19) rotate(0.02)">(p__Proteobacteria) g__Luteimonas</text>
</g>
</svg></body></html>
